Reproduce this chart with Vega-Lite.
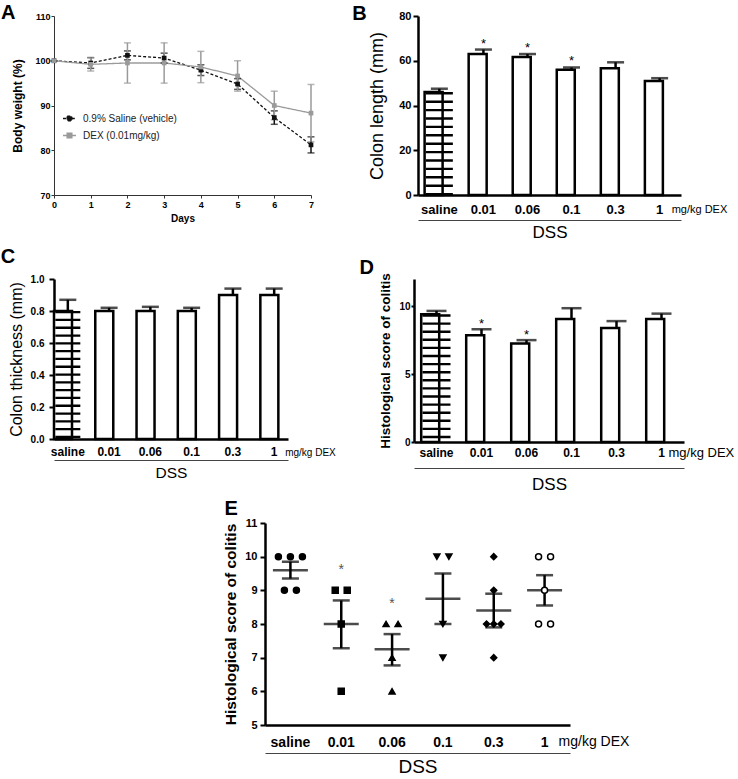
{
 "$schema": "https://vega.github.io/schema/vega-lite/v6.json",
 "padding": {"top": 3, "left": 0, "right": 0, "bottom": 0},
 "config": {
  "view": {"stroke": null},
  "font": "Liberation Sans",
  "axis": {"grid": false, "domainColor": "black", "tickColor": "black", "labelColor": "black", "titleColor": "black", "labelFont": "Liberation Sans", "titleFont": "Liberation Sans", "labelFontWeight": "bold", "labelOverlap": false, "labelBound": false, "labelFlush": false},
  "text": {"font": "Liberation Sans", "color": "black"}
 },
 "concat": [
  {"hconcat": [
   {
    "width": 257, "height": 179,
    "data": {"values": [
     {"day":0,"group":"0.9% Saline (vehicle)","mean":100,"sem":0},
     {"day":1,"group":"0.9% Saline (vehicle)","mean":99.5,"sem":1.2},
     {"day":2,"group":"0.9% Saline (vehicle)","mean":101.2,"sem":1.0},
     {"day":3,"group":"0.9% Saline (vehicle)","mean":100.6,"sem":1.1},
     {"day":4,"group":"0.9% Saline (vehicle)","mean":97.9,"sem":1.2},
     {"day":5,"group":"0.9% Saline (vehicle)","mean":94.8,"sem":1.2},
     {"day":6,"group":"0.9% Saline (vehicle)","mean":87.3,"sem":1.5},
     {"day":7,"group":"0.9% Saline (vehicle)","mean":81.2,"sem":1.8},
     {"day":0,"group":"DEX (0.01mg/kg)","mean":100,"sem":0},
     {"day":1,"group":"DEX (0.01mg/kg)","mean":99.2,"sem":1.5},
     {"day":2,"group":"DEX (0.01mg/kg)","mean":99.5,"sem":4.5},
     {"day":3,"group":"DEX (0.01mg/kg)","mean":99.5,"sem":4.5},
     {"day":4,"group":"DEX (0.01mg/kg)","mean":98.6,"sem":3.5},
     {"day":5,"group":"DEX (0.01mg/kg)","mean":96.6,"sem":3.4},
     {"day":6,"group":"DEX (0.01mg/kg)","mean":90.0,"sem":3.2},
     {"day":7,"group":"DEX (0.01mg/kg)","mean":88.3,"sem":6.4}
    ]},
    "layer": [
     {"mark": {"type": "line", "strokeWidth": 1.3},
      "encoding": {
       "x": {"field": "day", "type": "quantitative", "scale": {"domain": [0, 7]}, "axis": {"values": [0,1,2,3,4,5,6,7], "tickCount": 10, "format": "d", "labelOverlap": false, "title": "Days", "titleFontSize": 10, "titleFontWeight": "bold", "labelFontSize": 9, "tickSize": 3, "labelPadding": 2, "titlePadding": 4, "domainColor": "#333", "tickColor": "#333"}},
       "y": {"field": "mean", "type": "quantitative", "scale": {"domain": [70, 110]}, "axis": {"values": [70,80,90,100,110], "tickCount": 10, "format": "d", "labelOverlap": false, "title": "Body weight (%)", "titleFontSize": 12, "titleFontWeight": "bold", "labelFontSize": 9, "tickSize": 3, "labelPadding": 1, "titlePadding": 10, "domainColor": "#333", "tickColor": "#333"}},
       "color": {"field": "group", "type": "nominal", "scale": {"domain": ["0.9% Saline (vehicle)", "DEX (0.01mg/kg)"], "range": ["#111111", "#9a9a9a"]},
        "legend": {"orient": "none", "legendX": 8, "legendY": 95, "title": null, "labelFontSize": 10, "labelColor": "#222", "symbolType": "M-1,0H-0.35M0.35,0H1M-0.35,-0.35H0.35V0.35H-0.35Z", "symbolSize": 170, "symbolStrokeWidth": 1.5, "rowPadding": 4, "labelOffset": 6}},
       "strokeDash": {"field": "group", "type": "nominal", "scale": {"domain": ["0.9% Saline (vehicle)", "DEX (0.01mg/kg)"], "range": [[3, 2], [1, 0]]},
        "legend": {"orient": "none", "legendX": 8, "legendY": 95, "title": null, "labelFontSize": 10, "labelColor": "#222", "symbolType": "M-1,0H-0.35M0.35,0H1M-0.35,-0.35H0.35V0.35H-0.35Z", "symbolSize": 170, "symbolStrokeWidth": 1.5, "rowPadding": 4, "labelOffset": 6}}
      }},
     {"mark": {"type": "errorbar", "ticks": {"size": 7, "thickness": 1.5}, "thickness": 1.5},
      "encoding": {
       "x": {"field": "day", "type": "quantitative", "axis": {"values": [0,1,2,3,4,5,6,7], "tickCount": 10, "format": "d", "labelOverlap": false, "title": "Days", "titleFontSize": 10, "titleFontWeight": "bold", "labelFontSize": 9, "tickSize": 3, "labelPadding": 2, "titlePadding": 4, "domainColor": "#333", "tickColor": "#333"}},
       "y": {"field": "mean", "type": "quantitative", "axis": {"values": [70,80,90,100,110], "tickCount": 10, "format": "d", "labelOverlap": false, "title": "Body weight (%)", "titleFontSize": 12, "titleFontWeight": "bold", "labelFontSize": 9, "tickSize": 3, "labelPadding": 1, "titlePadding": 10, "domainColor": "#333", "tickColor": "#333"}},
       "yError": {"field": "sem"},
       "color": {"field": "group", "type": "nominal", "legend": null}
      }},
     {"mark": {"type": "point", "shape": "square", "filled": true, "size": 22, "opacity": 1},
      "encoding": {
       "x": {"field": "day", "type": "quantitative", "axis": {"values": [0,1,2,3,4,5,6,7], "tickCount": 10, "format": "d", "labelOverlap": false, "title": "Days", "titleFontSize": 10, "titleFontWeight": "bold", "labelFontSize": 9, "tickSize": 3, "labelPadding": 2, "titlePadding": 4, "domainColor": "#333", "tickColor": "#333"}},
       "y": {"field": "mean", "type": "quantitative", "axis": {"values": [70,80,90,100,110], "tickCount": 10, "format": "d", "labelOverlap": false, "title": "Body weight (%)", "titleFontSize": 12, "titleFontWeight": "bold", "labelFontSize": 9, "tickSize": 3, "labelPadding": 1, "titlePadding": 10, "domainColor": "#333", "tickColor": "#333"}},
       "color": {"field": "group", "type": "nominal", "legend": null}
      }},
     {"data": {"values": [{"t": "A"}]},
      "mark": {"type": "text", "align": "left", "baseline": "alphabetic", "fontSize": 20, "fontWeight": "bold", "dx": -53, "dy": 3},
      "encoding": {
       "x": {"datum": 0, "type": "quantitative", "axis": {"values": [0,1,2,3,4,5,6,7], "tickCount": 10, "format": "d", "labelOverlap": false, "title": "Days", "titleFontSize": 10, "titleFontWeight": "bold", "labelFontSize": 9, "tickSize": 3, "labelPadding": 2, "titlePadding": 4, "domainColor": "#333", "tickColor": "#333"}},
       "y": {"datum": 110, "type": "quantitative", "axis": {"values": [70,80,90,100,110], "tickCount": 10, "format": "d", "labelOverlap": false, "title": "Body weight (%)", "titleFontSize": 12, "titleFontWeight": "bold", "labelFontSize": 9, "tickSize": 3, "labelPadding": 1, "titlePadding": 10, "domainColor": "#333", "tickColor": "#333"}},
       "text": {"field": "t"}
      }}
    ]
   },
   {
    "width": 263, "height": 179,
    "data": {"values": [
     {"group":"saline","mean":46,"upper":47.5,"sig":""},
     {"group":"0.01","mean":63,"upper":65,"sig":"*"},
     {"group":"0.06","mean":61.7,"upper":63,"sig":"*"},
     {"group":"0.1","mean":56,"upper":57,"sig":"*"},
     {"group":"0.3","mean":56.6,"upper":59.3,"sig":""},
     {"group":"1","mean":51,"upper":52.2,"sig":""}
    ]},
    "resolve": {"axis": {"x": "independent"}},
    "layer": [
     {"mark": {"type": "bar", "fill": "white", "stroke": "black", "strokeWidth": 2.5},
      "encoding": {
       "x": {"field": "group", "type": "nominal", "sort": null, "scale": {"domain": ["saline","0.01","0.06","0.1","0.3","1"], "paddingInner": 0.33, "paddingOuter": 0.15},
        "axis": {"orient": "bottom", "title": null, "ticks": false, "labelAngle": 0, "labelFontSize": 13, "labelPadding": 8, "domainWidth": 2.5}},
       "y": {"field": "mean", "type": "quantitative", "scale": {"domain": [0, 80]},
        "axis": {"values": [0,20,40,60,80], "tickCount": 10, "format": "d", "labelOverlap": false, "title": "Colon length (mm)", "titleFontSize": 18, "titleFontWeight": "normal", "labelFontSize": 11, "tickSize": 5, "tickWidth": 2, "domainWidth": 2.5, "labelPadding": 2, "titlePadding": 12}}
      }},
     {"mark": {"type": "rule", "strokeWidth": 2.5, "color": "black"},
      "encoding": {
       "x": {"field": "group", "type": "nominal", "sort": null, "axis": null},
       "y": {"field": "mean", "type": "quantitative", "axis": {"values": [0,20,40,60,80], "tickCount": 10, "format": "d", "labelOverlap": false, "title": "Colon length (mm)", "titleFontSize": 18, "titleFontWeight": "normal", "labelFontSize": 11, "tickSize": 5, "tickWidth": 2, "domainWidth": 2.5, "labelPadding": 2, "titlePadding": 12}},
       "y2": {"field": "upper"}
      }},
     {"mark": {"type": "tick", "thickness": 2.5, "size": 17, "color": "black"},
      "encoding": {
       "x": {"field": "group", "type": "nominal", "sort": null,
        "axis": {"orient": "bottom", "offset": 25, "labels": false, "ticks": false, "domainWidth": 1, "domainColor": "#444", "title": "DSS", "titleFontSize": 17, "titleFontWeight": "normal", "titlePadding": 4}},
       "y": {"field": "upper", "type": "quantitative", "axis": {"values": [0,20,40,60,80], "tickCount": 10, "format": "d", "labelOverlap": false, "title": "Colon length (mm)", "titleFontSize": 18, "titleFontWeight": "normal", "labelFontSize": 11, "tickSize": 5, "tickWidth": 2, "domainWidth": 2.5, "labelPadding": 2, "titlePadding": 12}}
      }},
     {"transform": [{"filter": "datum.group === 'saline'"}],
      "mark": {"type": "rule", "strokeWidth": 27, "strokeDash": [2.4, 6], "color": "black"},
      "encoding": {
       "x": {"field": "group", "type": "nominal", "sort": null, "axis": null},
       "y": {"field": "mean", "type": "quantitative", "axis": {"values": [0,20,40,60,80], "tickCount": 10, "format": "d", "labelOverlap": false, "title": "Colon length (mm)", "titleFontSize": 18, "titleFontWeight": "normal", "labelFontSize": 11, "tickSize": 5, "tickWidth": 2, "domainWidth": 2.5, "labelPadding": 2, "titlePadding": 12}},
       "y2": {"datum": 0}
      }},
     {"mark": {"type": "text", "fontSize": 13, "baseline": "alphabetic", "dy": -2},
      "encoding": {
       "x": {"field": "group", "type": "nominal", "sort": null, "axis": null},
       "y": {"field": "upper", "type": "quantitative", "axis": {"values": [0,20,40,60,80], "tickCount": 10, "format": "d", "labelOverlap": false, "title": "Colon length (mm)", "titleFontSize": 18, "titleFontWeight": "normal", "labelFontSize": 11, "tickSize": 5, "tickWidth": 2, "domainWidth": 2.5, "labelPadding": 2, "titlePadding": 12}},
       "text": {"field": "sig"}
      }},
     {"data": {"values": [{"label": "mg/kg DEX", "t": "B"}]},
      "layer": [
       {"mark": {"type": "text", "align": "left", "baseline": "middle", "dx": 12, "dy": 15, "fontSize": 11},
        "encoding": {
         "x": {"datum": "1", "type": "nominal", "axis": null},
         "y": {"datum": 0, "type": "quantitative", "axis": {"values": [0,20,40,60,80], "tickCount": 10, "format": "d", "labelOverlap": false, "title": "Colon length (mm)", "titleFontSize": 18, "titleFontWeight": "normal", "labelFontSize": 11, "tickSize": 5, "tickWidth": 2, "domainWidth": 2.5, "labelPadding": 2, "titlePadding": 12}},
         "text": {"field": "label"}
        }},
       {"mark": {"type": "text", "align": "left", "baseline": "alphabetic", "fontSize": 20, "fontWeight": "bold", "dx": -87, "dy": 4},
        "encoding": {
         "x": {"datum": "saline", "type": "nominal", "axis": null},
         "y": {"datum": 80, "type": "quantitative", "axis": {"values": [0,20,40,60,80], "tickCount": 10, "format": "d", "labelOverlap": false, "title": "Colon length (mm)", "titleFontSize": 18, "titleFontWeight": "normal", "labelFontSize": 11, "tickSize": 5, "tickWidth": 2, "domainWidth": 2.5, "labelPadding": 2, "titlePadding": 12}},
         "text": {"field": "t"}
        }}
      ]}
    ]
   }
  ], "spacing": 37},
  {"hconcat": [
   {
    "width": 234, "height": 160,
    "data": {"values": [
     {"group":"saline","mean":0.8,"upper":0.87},
     {"group":"0.01","mean":0.8,"upper":0.82},
     {"group":"0.06","mean":0.8,"upper":0.826},
     {"group":"0.1","mean":0.8,"upper":0.82},
     {"group":"0.3","mean":0.9,"upper":0.94},
     {"group":"1","mean":0.9,"upper":0.94}
    ]},
    "resolve": {"axis": {"x": "independent"}},
    "layer": [
     {"mark": {"type": "bar", "fill": "white", "stroke": "black", "strokeWidth": 2.5},
      "encoding": {
       "x": {"field": "group", "type": "nominal", "sort": null, "scale": {"domain": ["saline","0.01","0.06","0.1","0.3","1"], "paddingInner": 0.33, "paddingOuter": 0},
        "axis": {"orient": "bottom", "title": null, "ticks": false, "labelAngle": 0, "labelFontSize": 12, "labelPadding": 7, "domainWidth": 2.5}},
       "y": {"field": "mean", "type": "quantitative", "scale": {"domain": [0, 1]},
        "axis": {"values": [0,0.2,0.4,0.6,0.8,1.0], "tickCount": 10, "labelOverlap": false, "format": ".1f", "title": "Colon thickness (mm)", "titleFontSize": 16, "titleFontWeight": "normal", "labelFontSize": 10, "tickSize": 5, "tickWidth": 2, "domainWidth": 2.5, "labelPadding": 5, "titlePadding": 6}}
      }},
     {"mark": {"type": "rule", "strokeWidth": 2.5, "color": "black"},
      "encoding": {
       "x": {"field": "group", "type": "nominal", "sort": null, "axis": null},
       "y": {"field": "mean", "type": "quantitative", "axis": {"values": [0,0.2,0.4,0.6,0.8,1.0], "tickCount": 10, "labelOverlap": false, "format": ".1f", "title": "Colon thickness (mm)", "titleFontSize": 16, "titleFontWeight": "normal", "labelFontSize": 10, "tickSize": 5, "tickWidth": 2, "domainWidth": 2.5, "labelPadding": 5, "titlePadding": 6}},
       "y2": {"field": "upper"}
      }},
     {"mark": {"type": "tick", "thickness": 2.5, "size": 17, "color": "black"},
      "encoding": {
       "x": {"field": "group", "type": "nominal", "sort": null,
        "axis": {"orient": "bottom", "offset": 21, "labels": false, "ticks": false, "domainWidth": 1, "domainColor": "#444", "title": "DSS", "titleFontSize": 15.5, "titleFontWeight": "normal", "titlePadding": 5}},
       "y": {"field": "upper", "type": "quantitative", "axis": {"values": [0,0.2,0.4,0.6,0.8,1.0], "tickCount": 10, "labelOverlap": false, "format": ".1f", "title": "Colon thickness (mm)", "titleFontSize": 16, "titleFontWeight": "normal", "labelFontSize": 10, "tickSize": 5, "tickWidth": 2, "domainWidth": 2.5, "labelPadding": 5, "titlePadding": 6}}
      }},
     {"transform": [{"filter": "datum.group === 'saline'"}],
      "mark": {"type": "rule", "strokeWidth": 25, "strokeDash": [2.3, 5.5], "color": "black"},
      "encoding": {
       "x": {"field": "group", "type": "nominal", "sort": null, "axis": null},
       "y": {"field": "mean", "type": "quantitative", "axis": {"values": [0,0.2,0.4,0.6,0.8,1.0], "tickCount": 10, "labelOverlap": false, "format": ".1f", "title": "Colon thickness (mm)", "titleFontSize": 16, "titleFontWeight": "normal", "labelFontSize": 10, "tickSize": 5, "tickWidth": 2, "domainWidth": 2.5, "labelPadding": 5, "titlePadding": 6}},
       "y2": {"datum": 0}
      }},
     {"data": {"values": [{"label": "mg/kg DEX", "t": "C"}]},
      "layer": [
       {"mark": {"type": "text", "align": "left", "baseline": "middle", "dx": 11, "dy": 14, "fontSize": 10},
        "encoding": {
         "x": {"datum": "1", "type": "nominal", "axis": null},
         "y": {"datum": 0, "type": "quantitative", "axis": {"values": [0,0.2,0.4,0.6,0.8,1.0], "tickCount": 10, "labelOverlap": false, "format": ".1f", "title": "Colon thickness (mm)", "titleFontSize": 16, "titleFontWeight": "normal", "labelFontSize": 10, "tickSize": 5, "tickWidth": 2, "domainWidth": 2.5, "labelPadding": 5, "titlePadding": 6}},
         "text": {"field": "label"}
        }},
       {"mark": {"type": "text", "align": "left", "baseline": "alphabetic", "fontSize": 20, "fontWeight": "bold", "dx": -67, "dy": -16},
        "encoding": {
         "x": {"datum": "saline", "type": "nominal", "axis": null},
         "y": {"datum": 1, "type": "quantitative", "axis": {"values": [0,0.2,0.4,0.6,0.8,1.0], "tickCount": 10, "labelOverlap": false, "format": ".1f", "title": "Colon thickness (mm)", "titleFontSize": 16, "titleFontWeight": "normal", "labelFontSize": 10, "tickSize": 5, "tickWidth": 2, "domainWidth": 2.5, "labelPadding": 5, "titlePadding": 6}},
         "text": {"field": "t"}
        }}
      ]}
    ]
   },
   {
    "width": 270, "height": 163,
    "data": {"values": [
     {"group":"saline","mean":9.4,"upper":9.65,"sig":""},
     {"group":"0.01","mean":7.85,"upper":8.3,"sig":"*"},
     {"group":"0.06","mean":7.25,"upper":7.5,"sig":"*"},
     {"group":"0.1","mean":9.05,"upper":9.85,"sig":""},
     {"group":"0.3","mean":8.4,"upper":8.9,"sig":""},
     {"group":"1","mean":9.05,"upper":9.45,"sig":""}
    ]},
    "resolve": {"axis": {"x": "independent"}},
    "layer": [
     {"mark": {"type": "bar", "fill": "white", "stroke": "black", "strokeWidth": 2.5},
      "encoding": {
       "x": {"field": "group", "type": "nominal", "sort": null, "scale": {"domain": ["saline","0.01","0.06","0.1","0.3","1"], "paddingInner": 0.32, "paddingOuter": 0.16},
        "axis": {"orient": "bottom", "title": null, "ticks": false, "labelAngle": 0, "labelFontSize": 12, "labelPadding": 5, "domainWidth": 2.5}},
       "y": {"field": "mean", "type": "quantitative", "scale": {"domain": [0, 12]},
        "axis": {"values": [0,5,10], "tickCount": 10, "format": "d", "labelOverlap": false, "title": "Histological score of colitis", "titleFontSize": 13.5, "titleFontWeight": "bold", "labelFontSize": 10, "tickSize": 3, "tickWidth": 2, "domainWidth": 2.5, "labelPadding": 1, "titlePadding": 6}}
      }},
     {"mark": {"type": "rule", "strokeWidth": 2.5, "color": "black"},
      "encoding": {
       "x": {"field": "group", "type": "nominal", "sort": null, "axis": null},
       "y": {"field": "mean", "type": "quantitative", "axis": {"values": [0,5,10], "tickCount": 10, "format": "d", "labelOverlap": false, "title": "Histological score of colitis", "titleFontSize": 13.5, "titleFontWeight": "bold", "labelFontSize": 10, "tickSize": 3, "tickWidth": 2, "domainWidth": 2.5, "labelPadding": 1, "titlePadding": 6}},
       "y2": {"field": "upper"}
      }},
     {"mark": {"type": "tick", "thickness": 2.5, "size": 20, "color": "black"},
      "encoding": {
       "x": {"field": "group", "type": "nominal", "sort": null,
        "axis": {"orient": "bottom", "offset": 26, "labels": false, "ticks": false, "domainWidth": 1, "domainColor": "#444", "title": "DSS", "titleFontSize": 17, "titleFontWeight": "normal", "titlePadding": 8}},
       "y": {"field": "upper", "type": "quantitative", "axis": {"values": [0,5,10], "tickCount": 10, "format": "d", "labelOverlap": false, "title": "Histological score of colitis", "titleFontSize": 13.5, "titleFontWeight": "bold", "labelFontSize": 10, "tickSize": 3, "tickWidth": 2, "domainWidth": 2.5, "labelPadding": 1, "titlePadding": 6}}
      }},
     {"transform": [{"filter": "datum.group === 'saline'"}],
      "mark": {"type": "rule", "strokeWidth": 28, "strokeDash": [2.4, 5.7], "color": "black"},
      "encoding": {
       "x": {"field": "group", "type": "nominal", "sort": null, "axis": null},
       "y": {"field": "mean", "type": "quantitative", "axis": {"values": [0,5,10], "tickCount": 10, "format": "d", "labelOverlap": false, "title": "Histological score of colitis", "titleFontSize": 13.5, "titleFontWeight": "bold", "labelFontSize": 10, "tickSize": 3, "tickWidth": 2, "domainWidth": 2.5, "labelPadding": 1, "titlePadding": 6}},
       "y2": {"datum": 0}
      }},
     {"mark": {"type": "text", "fontSize": 13, "baseline": "alphabetic", "dy": -1},
      "encoding": {
       "x": {"field": "group", "type": "nominal", "sort": null, "axis": null},
       "y": {"field": "upper", "type": "quantitative", "axis": {"values": [0,5,10], "tickCount": 10, "format": "d", "labelOverlap": false, "title": "Histological score of colitis", "titleFontSize": 13.5, "titleFontWeight": "bold", "labelFontSize": 10, "tickSize": 3, "tickWidth": 2, "domainWidth": 2.5, "labelPadding": 1, "titlePadding": 6}},
       "text": {"field": "sig"}
      }},
     {"data": {"values": [{"label": "mg/kg DEX", "t": "D"}]},
      "layer": [
       {"mark": {"type": "text", "align": "left", "baseline": "middle", "dx": 7, "dy": 11, "fontSize": 13},
        "encoding": {
         "x": {"datum": "1", "type": "nominal", "axis": null},
         "y": {"datum": 0, "type": "quantitative", "axis": {"values": [0,5,10], "tickCount": 10, "format": "d", "labelOverlap": false, "title": "Histological score of colitis", "titleFontSize": 13.5, "titleFontWeight": "bold", "labelFontSize": 10, "tickSize": 3, "tickWidth": 2, "domainWidth": 2.5, "labelPadding": 1, "titlePadding": 6}},
         "text": {"field": "label"}
        }},
       {"mark": {"type": "text", "align": "left", "baseline": "alphabetic", "fontSize": 20, "fontWeight": "bold", "dx": -77, "dy": -5},
        "encoding": {
         "x": {"datum": "saline", "type": "nominal", "axis": null},
         "y": {"datum": 12, "type": "quantitative", "axis": {"values": [0,5,10], "tickCount": 10, "format": "d", "labelOverlap": false, "title": "Histological score of colitis", "titleFontSize": 13.5, "titleFontWeight": "bold", "labelFontSize": 10, "tickSize": 3, "tickWidth": 2, "domainWidth": 2.5, "labelPadding": 1, "titlePadding": 6}},
         "text": {"field": "t"}
        }}
      ]}
    ]
   }
  ], "spacing": 23},
  {"hconcat": [
   {"width": 149, "height": 10, "view": {"fill": "white", "stroke": null}, "data": {"values": [{}]}, "mark": {"type": "rule", "opacity": 0}, "encoding": {}},
   {
    "width": 305, "height": 202,
    "resolve": {"axis": {"x": "independent"}},
    "data": {"values": [
     {"group":"saline","mean":9.6,"lo":9.35,"hi":9.85,"sig":""},
     {"group":"0.01","mean":8.0,"lo":7.28,"hi":8.7,"sig":"*"},
     {"group":"0.06","mean":7.25,"lo":6.77,"hi":7.7,"sig":"*"},
     {"group":"0.1","mean":8.75,"lo":8.0,"hi":9.5,"sig":""},
     {"group":"0.3","mean":8.4,"lo":7.9,"hi":8.9,"sig":""},
     {"group":"1","mean":9.0,"lo":8.55,"hi":9.45,"sig":""}
    ]},
    "layer": [
     {"mark": {"type": "rule", "strokeWidth": 2.5, "color": "black"},
      "encoding": {
       "x": {"field": "group", "type": "nominal", "sort": null, "scale": {"domain": ["saline","0.01","0.06","0.1","0.3","1"], "paddingInner": 0, "paddingOuter": 0},
        "axis": {"orient": "bottom", "title": null, "ticks": false, "labelAngle": 0, "labelFontSize": 14, "labelPadding": 10, "domainWidth": 2.5}},
       "y": {"field": "lo", "type": "quantitative", "scale": {"domain": [5, 11]},
        "axis": {"values": [5,6,7,8,9,10,11], "tickCount": 10, "format": "d", "labelOverlap": false, "title": "Histological score of colitis", "titleFontSize": 15.5, "titleFontWeight": "bold", "labelFontSize": 11, "tickSize": 5, "tickWidth": 2, "domainWidth": 2.5, "labelPadding": 3, "titlePadding": 6}},
       "y2": {"field": "hi"}
      }},
     {"mark": {"type": "tick", "thickness": 2.5, "size": 17, "color": "black"},
      "encoding": {
       "x": {"field": "group", "type": "nominal", "sort": null, "axis": null},
       "y": {"field": "lo", "type": "quantitative", "axis": {"values": [5,6,7,8,9,10,11], "tickCount": 10, "format": "d", "labelOverlap": false, "title": "Histological score of colitis", "titleFontSize": 15.5, "titleFontWeight": "bold", "labelFontSize": 11, "tickSize": 5, "tickWidth": 2, "domainWidth": 2.5, "labelPadding": 3, "titlePadding": 6}}
      }},
     {"mark": {"type": "tick", "thickness": 2.5, "size": 17, "color": "black"},
      "encoding": {
       "x": {"field": "group", "type": "nominal", "sort": null,
        "axis": {"orient": "bottom", "offset": 28, "labels": false, "ticks": false, "domainWidth": 1, "domainColor": "#444", "title": "DSS", "titleFontSize": 19, "titleFontWeight": "normal", "titlePadding": 4}},
       "y": {"field": "hi", "type": "quantitative", "axis": {"values": [5,6,7,8,9,10,11], "tickCount": 10, "format": "d", "labelOverlap": false, "title": "Histological score of colitis", "titleFontSize": 15.5, "titleFontWeight": "bold", "labelFontSize": 11, "tickSize": 5, "tickWidth": 2, "domainWidth": 2.5, "labelPadding": 3, "titlePadding": 6}}
      }},
     {"mark": {"type": "tick", "thickness": 2.5, "size": 35, "color": "black"},
      "encoding": {
       "x": {"field": "group", "type": "nominal", "sort": null, "axis": null},
       "y": {"field": "mean", "type": "quantitative", "axis": {"values": [5,6,7,8,9,10,11], "tickCount": 10, "format": "d", "labelOverlap": false, "title": "Histological score of colitis", "titleFontSize": 15.5, "titleFontWeight": "bold", "labelFontSize": 11, "tickSize": 5, "tickWidth": 2, "domainWidth": 2.5, "labelPadding": 3, "titlePadding": 6}}
      }},
     {"mark": {"type": "text", "fontSize": 14, "baseline": "middle", "dy": -30, "color": "#555"},
      "encoding": {
       "x": {"field": "group", "type": "nominal", "sort": null, "axis": null},
       "y": {"field": "hi", "type": "quantitative", "axis": {"values": [5,6,7,8,9,10,11], "tickCount": 10, "format": "d", "labelOverlap": false, "title": "Histological score of colitis", "titleFontSize": 15.5, "titleFontWeight": "bold", "labelFontSize": 11, "tickSize": 5, "tickWidth": 2, "domainWidth": 2.5, "labelPadding": 3, "titlePadding": 6}},
       "text": {"field": "sig"}
      }},
     {"data": {"values": [
       {"group":"saline","score":10,"jit":-1},{"group":"saline","score":10,"jit":0},{"group":"saline","score":10,"jit":1},{"group":"saline","score":9,"jit":-0.5},{"group":"saline","score":9,"jit":0.5},
       {"group":"0.01","score":9,"jit":-0.5},{"group":"0.01","score":9,"jit":0.5},{"group":"0.01","score":8,"jit":0},{"group":"0.01","score":6,"jit":0},
       {"group":"0.06","score":8,"jit":-0.5},{"group":"0.06","score":8,"jit":0.5},{"group":"0.06","score":7,"jit":0},{"group":"0.06","score":6,"jit":0},
       {"group":"0.1","score":10,"jit":-0.5},{"group":"0.1","score":10,"jit":0.5},{"group":"0.1","score":8,"jit":0},{"group":"0.1","score":7,"jit":0},
       {"group":"0.3","score":10,"jit":0},{"group":"0.3","score":9,"jit":0},{"group":"0.3","score":8,"jit":-0.6},{"group":"0.3","score":8,"jit":0},{"group":"0.3","score":8,"jit":0.6},{"group":"0.3","score":7,"jit":0},
       {"group":"1","score":10,"jit":-0.5},{"group":"1","score":10,"jit":0.5},{"group":"1","score":9,"jit":0},{"group":"1","score":8,"jit":-0.5},{"group":"1","score":8,"jit":0.5}
      ]},
      "mark": {"type": "point", "filled": true, "size": 36, "stroke": "black", "strokeWidth": 1.5, "opacity": 1},
      "encoding": {
       "x": {"field": "group", "type": "nominal", "sort": null, "axis": null},
       "xOffset": {"field": "jit", "type": "quantitative", "scale": {"domain": [-1, 1], "range": [13.4, 37.4]}},
       "y": {"field": "score", "type": "quantitative", "axis": {"values": [5,6,7,8,9,10,11], "tickCount": 10, "format": "d", "labelOverlap": false, "title": "Histological score of colitis", "titleFontSize": 15.5, "titleFontWeight": "bold", "labelFontSize": 11, "tickSize": 5, "tickWidth": 2, "domainWidth": 2.5, "labelPadding": 3, "titlePadding": 6}},
       "shape": {"field": "group", "type": "nominal", "scale": {"domain": ["saline","0.01","0.06","0.1","0.3","1"], "range": ["circle","square","triangle-up","triangle-down","diamond","circle"]}, "legend": null},
       "fill": {"field": "group", "type": "nominal", "scale": {"domain": ["saline","0.01","0.06","0.1","0.3","1"], "range": ["black","black","black","black","black","white"]}, "legend": null}
      }},
     {"data": {"values": [{"label": "mg/kg DEX", "t": "E"}]},
      "layer": [
       {"mark": {"type": "text", "align": "left", "baseline": "middle", "dx": 14, "dy": 17, "fontSize": 14},
        "encoding": {
         "x": {"datum": "1", "type": "nominal", "axis": null},
         "y": {"datum": 5, "type": "quantitative", "axis": {"values": [5,6,7,8,9,10,11], "tickCount": 10, "format": "d", "labelOverlap": false, "title": "Histological score of colitis", "titleFontSize": 15.5, "titleFontWeight": "bold", "labelFontSize": 11, "tickSize": 5, "tickWidth": 2, "domainWidth": 2.5, "labelPadding": 3, "titlePadding": 6}},
         "text": {"field": "label"}
        }},
       {"mark": {"type": "text", "align": "left", "baseline": "alphabetic", "fontSize": 20, "fontWeight": "bold", "dx": -66, "dy": -8},
        "encoding": {
         "x": {"datum": "saline", "type": "nominal", "axis": null},
         "y": {"datum": 11, "type": "quantitative", "axis": {"values": [5,6,7,8,9,10,11], "tickCount": 10, "format": "d", "labelOverlap": false, "title": "Histological score of colitis", "titleFontSize": 15.5, "titleFontWeight": "bold", "labelFontSize": 11, "tickSize": 5, "tickWidth": 2, "domainWidth": 2.5, "labelPadding": 3, "titlePadding": 6}},
         "text": {"field": "t"}
        }}
      ]}
    ]
   }
  ], "spacing": 20}
 ],
 "columns": 1,
 "align": "none",
 "bounds": "full",
 "spacing": 7
}
